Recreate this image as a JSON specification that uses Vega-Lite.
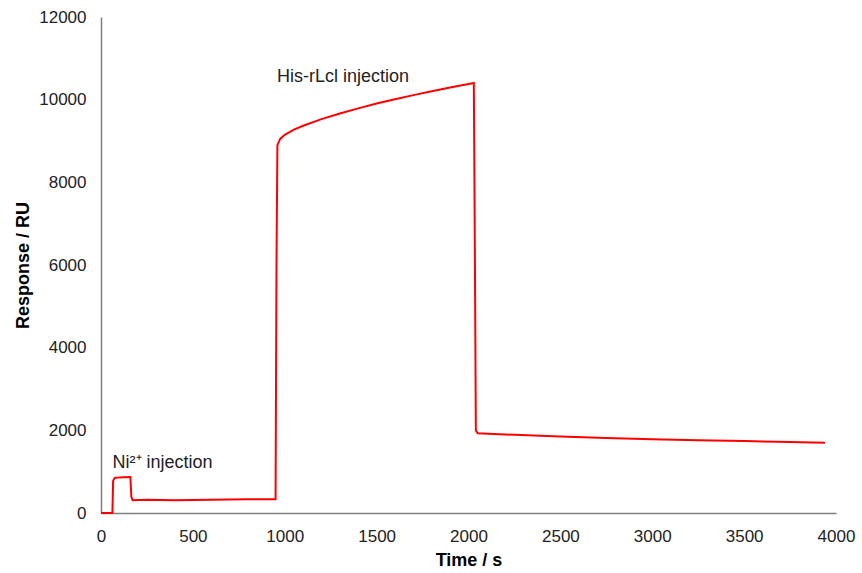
{
  "$schema": "https://vega.github.io/schema/vega-lite/v6.json",
  "autosize": {"type": "none"},
  "width": 735,
  "height": 496,
  "padding": {"left": 101, "top": 17, "right": 26, "bottom": 60},
  "background": "white",
  "config": {"view": {"stroke": null}, "font": "Liberation Sans"},
  "layer": [
    {
      "data": {"values": [
        {"t": 0, "r": 0}, {"t": 62, "r": 0}, {"t": 66, "r": 780}, {"t": 75, "r": 850},
        {"t": 120, "r": 865}, {"t": 160, "r": 870}, {"t": 165, "r": 400}, {"t": 172, "r": 310},
        {"t": 250, "r": 320}, {"t": 400, "r": 310}, {"t": 600, "r": 320}, {"t": 800, "r": 330},
        {"t": 950, "r": 335}, {"t": 955, "r": 6000}, {"t": 960, "r": 8900}, {"t": 975, "r": 9050},
        {"t": 1000, "r": 9150}, {"t": 1050, "r": 9275}, {"t": 1100, "r": 9370},
        {"t": 1200, "r": 9530}, {"t": 1300, "r": 9665}, {"t": 1400, "r": 9790},
        {"t": 1500, "r": 9905}, {"t": 1600, "r": 10010}, {"t": 1700, "r": 10110},
        {"t": 1800, "r": 10205}, {"t": 1900, "r": 10295}, {"t": 2000, "r": 10380},
        {"t": 2029, "r": 10405}, {"t": 2035, "r": 6000},
        {"t": 2040, "r": 2000}, {"t": 2050, "r": 1930}, {"t": 2200, "r": 1900},
        {"t": 2500, "r": 1850}, {"t": 2750, "r": 1815}, {"t": 3000, "r": 1785},
        {"t": 3250, "r": 1760}, {"t": 3500, "r": 1740}, {"t": 3750, "r": 1720},
        {"t": 3940, "r": 1700}
      ]},
      "mark": {"type": "line", "color": "#ff0000", "strokeWidth": 2},
      "encoding": {
        "x": {"field": "t", "type": "quantitative", "scale": {"domain": [0, 4000], "nice": false},
          "axis": {"title": "Time / s", "values": [0,500,1000,1500,2000,2500,3000,3500,4000], "format": "d", "ticks": false, "grid": false, "labelFlush": false,
            "domainColor": "#7f7f7f", "domainWidth": 1.5, "labelFontSize": 17, "labelColor": "#222", "labelPadding": 15,
            "titleFontSize": 18, "titleFontWeight": "bold", "titleColor": "#000", "titlePadding": 7}},
        "y": {"field": "r", "type": "quantitative", "scale": {"domain": [0, 12000], "nice": false},
          "axis": {"title": "Response / RU", "values": [0,2000,4000,6000,8000,10000,12000], "format": "d", "ticks": false, "grid": false, "labelFlush": false,
            "domainColor": "#7f7f7f", "domainWidth": 1.5, "labelFontSize": 17, "labelColor": "#222", "labelPadding": 15,
            "titleFontSize": 18, "titleFontWeight": "bold", "titleColor": "#000", "titlePadding": 6}}
      }
    },
    {
      "data": {"values": [
        {"t": 63, "r": 1200, "label": "Ni²⁺ injection"},
        {"t": 958, "r": 10550, "label": "His-rLcl injection"}
      ]},
      "mark": {"type": "text", "align": "left", "baseline": "middle", "fontSize": 18, "color": "#222"},
      "encoding": {
        "x": {"field": "t", "type": "quantitative"},
        "y": {"field": "r", "type": "quantitative"},
        "text": {"field": "label"}
      }
    }
  ]
}
